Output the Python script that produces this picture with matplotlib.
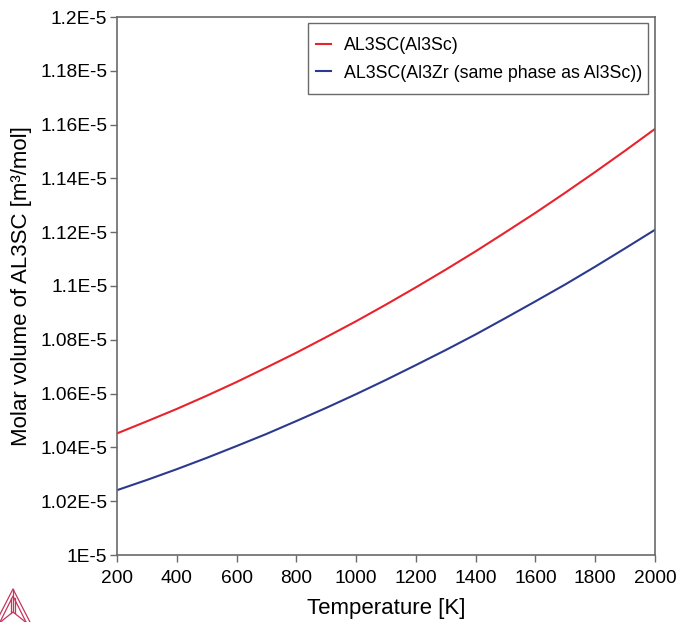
import matplotlib
matplotlib.use("Agg")
import matplotlib.pyplot as plt
from matplotlib.lines import Line2D
from matplotlib.patches import Rectangle

plt.rcParams['font.family'] = ['Liberation Sans', 'DejaVu Sans']

# temperature grid [K]
temperature = [200, 300, 400, 500, 600, 700, 800, 900, 1000, 1100,
               1200, 1300, 1400, 1500, 1600, 1700, 1800, 1900, 2000]

# molar volume, in units of 1E-5 m3/mol
vm_al3sc = [1.0452, 1.0497, 1.0543, 1.0592, 1.0643, 1.0697, 1.0752, 1.0810, 1.0869, 1.0931,
            1.0995, 1.1061, 1.1129, 1.1200, 1.1272, 1.1347, 1.1424, 1.1503, 1.1584]
vm_al3zr = [1.0241, 1.0279, 1.0319, 1.0361, 1.0405, 1.0450, 1.0498, 1.0547, 1.0598, 1.0651,
            1.0706, 1.0762, 1.0820, 1.0881, 1.0943, 1.1006, 1.1072, 1.1140, 1.1209]

series_labels = ["AL3SC(Al3Sc)", "AL3SC(Al3Zr (same phase as Al3Sc))"]

x_ticks = [200, 400, 600, 800, 1000, 1200, 1400, 1600, 1800, 2000]
y_ticks = [1.00, 1.02, 1.04, 1.06, 1.08, 1.10, 1.12, 1.14, 1.16, 1.18, 1.20]
y_tick_labels = ["1E-5", "1.02E-5", "1.04E-5", "1.06E-5", "1.08E-5", "1.1E-5",
                 "1.12E-5", "1.14E-5", "1.16E-5", "1.18E-5", "1.2E-5"]

red = '#e8232d'
blue = '#2b3a8f'
spine_col = '#6a6a6a'

W, H = 678, 622
fig = plt.figure(figsize=(W / 100, H / 100), dpi=100)
ax = fig.add_axes([117 / W, 1 - 555 / H, 538 / W, 538 / H])

ax.plot(temperature, vm_al3sc, color=red, lw=1.5, label=series_labels[0])
ax.plot(temperature, vm_al3zr, color=blue, lw=1.5, label=series_labels[1])

ax.set_xlim(200, 2000)
ax.set_ylim(1.0, 1.2)
ax.set_xticks(x_ticks)
ax.set_xticklabels([str(t) for t in x_ticks])
ax.set_yticks(y_ticks)
ax.set_yticklabels(y_tick_labels)
ax.tick_params(labelsize=13.8, color=spine_col, length=5, width=1, pad=2)
ax.tick_params(axis='x', pad=6)
for s in ax.spines.values():
    s.set_color(spine_col)
    s.set_linewidth(1.2)

ax.set_xlabel("Temperature [K]", fontsize=16, labelpad=8)
ax.set_ylabel("Molar volume of AL3SC [m\u00b3/mol]", fontsize=16, labelpad=6)

# legend entries without frame, box drawn separately
leg = ax.legend(loc='upper left', bbox_to_anchor=((316 - 117) / 538, (555 - 37) / 538),
                fontsize=12.8, frameon=False, handlelength=0.85, handletextpad=0.7,
                borderpad=0, labelspacing=0.6, borderaxespad=0)
ax.add_patch(Rectangle(((308 - 117) / 538, (555 - 94) / 538), 340 / 538, 71 / 538,
                       transform=ax.transAxes, fill=False, edgecolor=spine_col,
                       lw=1.0, zorder=5))

# small Thermo-Calc style logo in the corner (pixel coords -> figure fraction)
logo = '#c8345e'


def px_line(xs, ys):
    fig.add_artist(Line2D([x / W for x in xs], [1 - y / H for y in ys],
                          color=logo, lw=0.9, transform=fig.transFigure))


px_line([-6, 13, 32], [626, 589, 626])
px_line([-2, 13, 28], [626, 596, 626])
px_line([13, 13], [589, 612])
px_line([11, 11], [598, 613])
px_line([15, 15], [598, 613])
px_line([-2, 13, 28], [624, 612, 624])

fig.savefig("out.png", dpi=100)
